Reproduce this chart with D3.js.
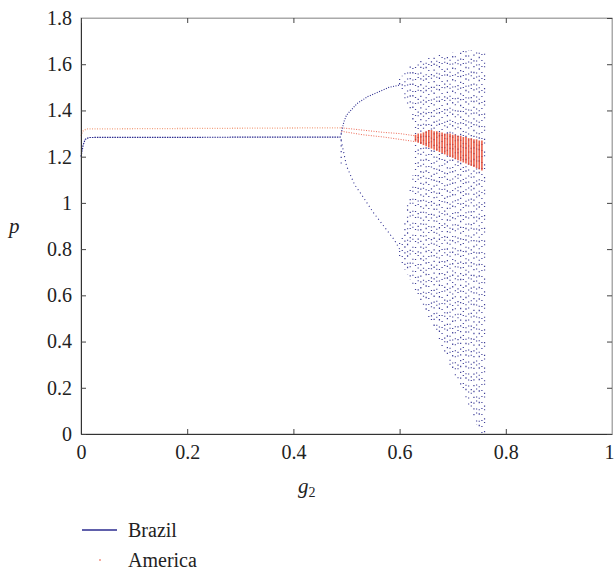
<!DOCTYPE html>
<html>
<head>
<meta charset="UTF-8">
<title>Bifurcation diagram</title>
<style>
  body { margin: 0; background: #fff; }
  svg { display: block; }
</style>
</head>
<body>
<svg></svg>
<script src="https://d3js.org/d3.v7.min.js"></script>
<script>

let width = 614, height = 572;
let margin = {left: 81, right: 2, top: 18, bottom: 138};
let serif = "Liberation Serif";

// x ticks and y ticks
let xTicks = [0, 0.2, 0.4, 0.6, 0.8, 1];
let yTicks = [0, 0.2, 0.4, 0.6, 0.8, 1, 1.2, 1.4, 1.6, 1.8];

// Brazil: period-1 branch and the two period-2 branches [g2, p]
let brazilFixed = [[0, 1.20], [0.004, 1.25], [0.008, 1.275], [0.015, 1.283], [0.49, 1.285]];
let brazilUpper = [[0.49, 1.30], [0.495, 1.35], [0.50, 1.38], [0.52, 1.43], [0.54, 1.46],
                   [0.56, 1.48], [0.58, 1.50], [0.60, 1.51]];
let brazilLower = [[0.49, 1.27], [0.50, 1.16], [0.515, 1.08], [0.53, 1.03], [0.55, 0.96],
                   [0.57, 0.90], [0.59, 0.84], [0.60, 0.80]];

// Brazil chaotic region: vertical bands [g2, pLow, pHigh]
let brazilBands = [
  [0.490, 1.17, 1.30],
  [0.600, 0.77, 0.83], [0.600, 1.49, 1.54],
  [0.605, 0.74, 0.87], [0.605, 1.47, 1.55],
  [0.610, 0.71, 0.93], [0.610, 1.45, 1.57],
  [0.615, 0.69, 1.00], [0.615, 1.42, 1.58],
  [0.620, 0.67, 1.06], [0.620, 1.39, 1.59],
  [0.625, 0.64, 1.12], [0.625, 1.34, 1.60],
  [0.630, 0.62, 1.61],
  [0.635, 0.60, 1.61],
  [0.640, 0.57, 1.62],
  [0.645, 0.55, 1.62],
  [0.650, 0.52, 1.63],
  [0.655, 0.50, 1.63],
  [0.660, 0.48, 1.63],
  [0.665, 0.45, 1.64],
  [0.670, 0.43, 1.64],
  [0.675, 0.40, 1.64],
  [0.680, 0.38, 1.64],
  [0.685, 0.35, 1.65],
  [0.690, 0.33, 1.65],
  [0.695, 0.30, 1.65],
  [0.700, 0.28, 1.65],
  [0.705, 0.25, 1.65],
  [0.710, 0.23, 1.65],
  [0.715, 0.20, 1.65],
  [0.720, 0.18, 1.66],
  [0.725, 0.15, 1.66],
  [0.730, 0.12, 1.66],
  [0.735, 0.10, 1.66],
  [0.740, 0.07, 1.66],
  [0.745, 0.04, 1.66],
  [0.750, 0.02, 1.66],
  [0.755, 0.00, 1.66],
  [0.760, 0.00, 1.65]
];

// America: fixed branch [g2, p]
let americaFixed = [[0, 1.29], [0.003, 1.31], [0.01, 1.32], [0.49, 1.325]];
let americaUpper = [[0.49, 1.325], [0.53, 1.315], [0.57, 1.305], [0.60, 1.30], [0.63, 1.29]];
let americaLower = [[0.49, 1.31], [0.53, 1.295], [0.57, 1.285], [0.60, 1.275], [0.63, 1.265]];

// America oscillating region: vertical bands [g2, pLow, pHigh]
let americaBands = [
  [0.630, 1.265, 1.295], [0.635, 1.26, 1.30], [0.640, 1.255, 1.30], [0.645, 1.25, 1.305],
  [0.650, 1.245, 1.31], [0.655, 1.24, 1.315], [0.660, 1.235, 1.315], [0.665, 1.23, 1.31],
  [0.670, 1.225, 1.31], [0.675, 1.22, 1.305], [0.680, 1.215, 1.305], [0.685, 1.21, 1.30],
  [0.690, 1.205, 1.30], [0.695, 1.20, 1.30], [0.700, 1.195, 1.295], [0.705, 1.19, 1.295],
  [0.710, 1.185, 1.29], [0.715, 1.18, 1.29], [0.720, 1.175, 1.285], [0.725, 1.17, 1.285],
  [0.730, 1.165, 1.28], [0.735, 1.16, 1.28], [0.740, 1.155, 1.275], [0.745, 1.15, 1.275],
  [0.750, 1.145, 1.27], [0.755, 1.14, 1.27]
];

let blue = "#2b2b8f", red = "#e8442a";
// dash patterns used in turn for the chaotic columns
let dashes = ["1.3,4.5", "1,3,1,7", "1.5,6,1,3", "1,5", "1.2,2.5,1,8"];

let svg = d3.select("svg")
    .attr("width", width)
    .attr("height", height);

let x = d3.scaleLinear().domain([0, 1]).range([margin.left, width - margin.right]);
let y = d3.scaleLinear().domain([0, 1.8]).range([height - margin.bottom, margin.top]);

let line = d3.line().x(d => x(d[0])).y(d => y(d[1]));

// frame
svg.append("rect")
    .attr("x", x(0)).attr("y", y(1.8))
    .attr("width", x(1) - x(0)).attr("height", y(0) - y(1.8))
    .attr("fill", "none").attr("stroke", "#aaa").attr("stroke-width", 1);

let plot = svg.append("g");

// America flat lines
plot.append("path").datum(americaFixed).attr("d", line)
    .attr("fill", "none").attr("stroke", "#f2a07e").attr("stroke-width", 1.3)
    .attr("stroke-dasharray", "1,1.5");
[americaUpper, americaLower].forEach(s => {
  plot.append("path").datum(s).attr("d", line)
    .attr("fill", "none").attr("stroke", red).attr("stroke-width", 1)
    .attr("stroke-dasharray", "1,1.5").attr("opacity", 0.8);
});

// Brazil lines
plot.append("path").datum(brazilFixed).attr("d", line)
    .attr("fill", "none").attr("stroke", blue).attr("stroke-width", 1.2)
    .attr("stroke-dasharray", "1.5,1");
plot.append("path").datum(brazilUpper).attr("d", line)
    .attr("fill", "none").attr("stroke", blue).attr("stroke-width", 1.1)
    .attr("stroke-dasharray", "1,1.5");
plot.append("path").datum(brazilLower).attr("d", line)
    .attr("fill", "none").attr("stroke", blue).attr("stroke-width", 1.1)
    .attr("stroke-dasharray", "1,3");

// Brazil chaotic bands
plot.append("g").selectAll("line")
    .data(brazilBands)
    .enter()
    .append("line")
    .attr("x1", d => x(d[0])).attr("x2", d => x(d[0]))
    .attr("y1", d => y(d[2])).attr("y2", d => y(d[1]))
    .attr("stroke", blue).attr("stroke-width", 1.2)
    .attr("stroke-dasharray", (d, i) => dashes[i % dashes.length])
    .attr("stroke-dashoffset", (d, i) => (i * 3.3) % 9)
    .attr("opacity", 0.9);

// America bands
plot.append("g").selectAll("line")
    .data(americaBands)
    .enter()
    .append("line")
    .attr("x1", d => x(d[0])).attr("x2", d => x(d[0]))
    .attr("y1", d => y(d[2])).attr("y2", d => y(d[1]))
    .attr("stroke", red).attr("stroke-width", 1.6)
    .attr("opacity", 0.85);

// axes, ticks inward
let xAxis = svg.append("g")
    .attr("transform", `translate(0,${y(0)})`)
    .call(d3.axisBottom(x).tickValues(xTicks).tickFormat(d3.format("")).tickSize(-5).tickPadding(11));
let yAxis = svg.append("g")
    .attr("transform", `translate(${x(0)},0)`)
    .call(d3.axisLeft(y).tickValues(yTicks).tickFormat(d3.format("")).tickSize(-5).tickPadding(9));
svg.append("g")
    .attr("transform", `translate(0,${y(1.8)})`)
    .call(d3.axisTop(x).tickValues(xTicks).tickFormat("").tickSize(-5));
svg.append("g")
    .attr("transform", `translate(${x(1)},0)`)
    .call(d3.axisRight(y).tickValues(yTicks).tickFormat("").tickSize(-5));

svg.selectAll(".tick text")
    .attr("font-family", serif)
    .attr("font-size", "20px")
    .attr("fill", "#222")
    .style("font-family", serif)
    .style("font-size", "20px");
svg.selectAll(".domain").attr("stroke", "#aaa");
svg.selectAll(".tick line").attr("stroke", "#444");
xAxis.select(".domain").attr("stroke", "#333");
yAxis.select(".domain").attr("stroke", "#333");
xAxis.selectAll(".tick text").filter(d => d === 1).attr("text-anchor", "end").attr("dx", 2);

// axis labels
svg.append("text")
    .attr("x", 9).attr("y", 233)
    .attr("font-family", serif)
    .attr("font-size", 21).attr("font-style", "italic").attr("fill", "#222")
    .text("p");
let gl = svg.append("text")
    .attr("x", 298).attr("y", 493)
    .attr("font-family", serif)
    .attr("font-size", 21).attr("font-style", "italic").attr("fill", "#222")
    .text("g");
gl.append("tspan").attr("font-size", 14).attr("font-style", "normal").attr("dy", 4).text("2");

// legend
svg.append("line")
    .attr("x1", 82).attr("x2", 117).attr("y1", 530).attr("y2", 530)
    .attr("stroke", blue).attr("stroke-width", 1.3);
svg.append("text")
    .attr("x", 128).attr("y", 537)
    .attr("font-family", serif)
    .attr("font-size", 20).attr("fill", "#222")
    .text("Brazil");
svg.append("circle")
    .attr("cx", 100).attr("cy", 560).attr("r", 0.8)
    .attr("fill", red);
svg.append("text")
    .attr("x", 128).attr("y", 567)
    .attr("font-family", serif)
    .attr("font-size", 20).attr("fill", "#222")
    .text("America");

</script>
</body>
</html>
